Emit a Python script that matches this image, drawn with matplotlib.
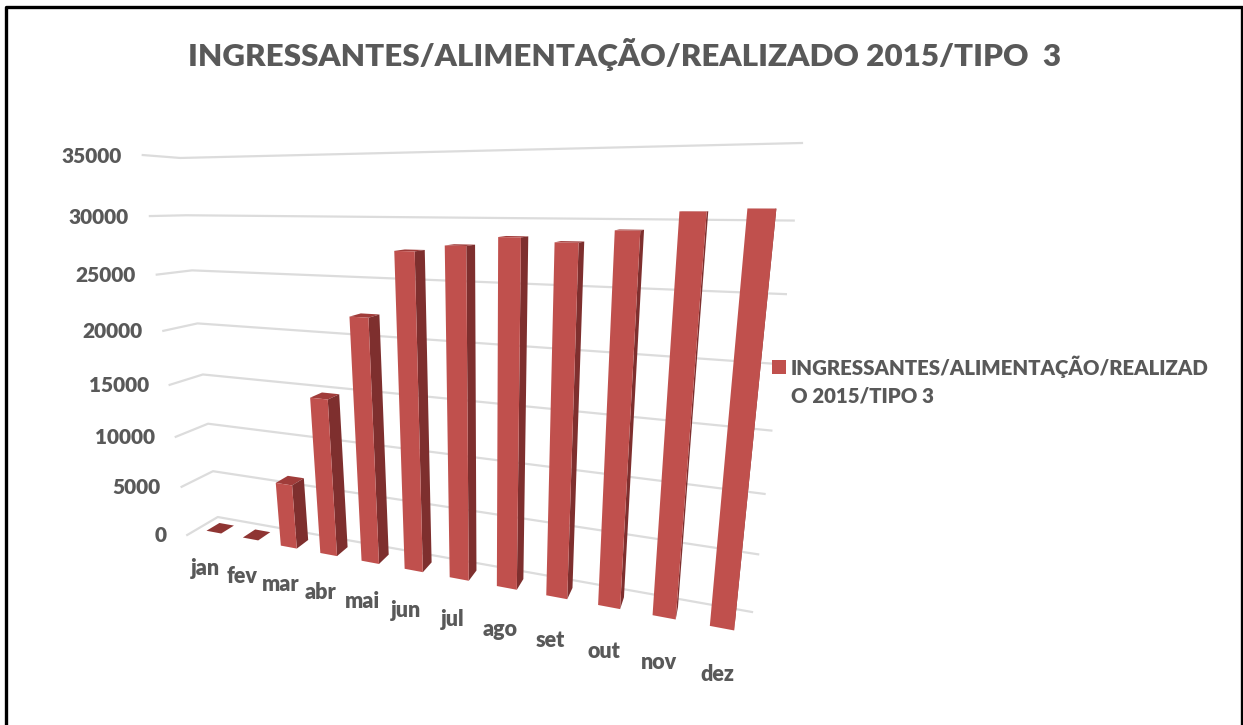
import numpy as np
import matplotlib
matplotlib.use('Agg')
import matplotlib.pyplot as plt

meses = ['jan', 'fev', 'mar', 'abr', 'mai', 'jun', 'jul', 'ago', 'set', 'out', 'nov', 'dez']
valores = [100, 100, 6300, 14800, 22100, 27500, 28000, 28700, 28400, 29300, 30600, 30800]
ticks = [0, 5000, 10000, 15000, 20000, 25000, 30000, 35000]

titulo = 'INGRESSANTES/ALIMENTAÇÃO/REALIZADO 2015/TIPO  3'
legenda = 'INGRESSANTES/ALIMENTAÇÃO/REALIZAD\nO 2015/TIPO 3'

plt.rcParams['font.family'] = ['Lato', 'DejaVu Sans']
CINZA = '#595959'
GRADE = '#dcdcdc'

# cantos da caixa 3D (mes, valor, profundidade) -> pixel da figura
cantos = [
    ((0, 0, 1), (218, 517)),
    ((0, 35000, 1), (180, 158)),
    ((12, 0, 1), (752, 612)),
    ((12, 35000, 1), (802, 143)),
    ((0, 0, 0), (187, 535)),
    ((0, 35000, 0), (143, 155)),
]

linhas = []
for (x, v, d), (px, py) in cantos:
    X = [x / 12, v / 35000, d, 1]
    linhas.append(X + [0, 0, 0, 0] + [-px * c for c in X])
    linhas.append([0, 0, 0, 0] + X + [-py * c for c in X])
P = np.linalg.svd(np.array(linhas, dtype=float))[2][-1].reshape(3, 4)


def proj(x, v, d):
    p = P @ np.array([x / 12, v / 35000, d, 1.0])
    return p[0] / p[2], p[1] / p[2]


def face(ax, pontos, cor):
    xy = [proj(*p) for p in pontos]
    ax.fill([q[0] for q in xy], [q[1] for q in xy], color=cor, lw=0, zorder=3)


fig = plt.figure(figsize=(12.43, 7.25), dpi=100)
ax = fig.add_axes([0, 0, 1, 1])
ax.set_xlim(0, 1243)
ax.set_ylim(725, 0)
ax.axis('off')

# grade: parede lateral e parede do fundo
for t in ticks:
    a = proj(0, t, 0)
    b = proj(0, t, 1)
    c = proj(12, t, 1)
    ax.plot([a[0], b[0], c[0]], [a[1], b[1], c[1]], color=GRADE, lw=1.6, zorder=1)
    ax.text(a[0] - 21, a[1] + 1, str(t), ha='right', va='center',
            fontsize=15, fontweight='heavy', color=CINZA)

# barras
larg = 0.205
d0, d1 = 0.28, 0.71
for i, (m, val) in enumerate(zip(meses, valores)):
    c = i + 0.5
    e, r = c - larg, c + larg
    if val < 500:
        face(ax, [(e, val, d0), (r, val, d0), (r, val, d1), (e, val, d1)], '#8f3533')
    else:
        face(ax, [(e, val, d0), (r, val, d0), (r, val, d1), (e, val, d1)], '#a03c3a')
        face(ax, [(r, 0, d0), (r, val, d0), (r, val, d1), (r, 0, d1)], '#7e2f2e')
        face(ax, [(e, 0, d0), (r, 0, d0), (r, val, d0), (e, val, d0)], '#c0504d')
    q = proj(c, -2950, -0.1)
    ax.text(q[0], q[1], m, ha='center', va='center', fontsize=15.5,
            fontweight='heavy', color=CINZA)

ax.text(624.5, 54, titulo, ha='center', va='center', fontsize=22.6,
        fontweight='heavy', color=CINZA)

# legenda
ax.add_patch(plt.Rectangle((772, 360), 14, 14, color='#c0504d', lw=0))
ax.text(791, 367, legenda.split('\n')[0], ha='left', va='center', fontsize=14.7,
        fontweight='heavy', color=CINZA)
ax.text(791, 396, legenda.split('\n')[1], ha='left', va='center', fontsize=14.7,
        fontweight='heavy', color=CINZA)

# moldura preta: sem linha embaixo
ax.plot([6.5, 6.5, 1242, 1242], [725, 6.5, 6.5, 725], color='black', lw=2.4, zorder=5)

fig.savefig('out.png', dpi=100)
